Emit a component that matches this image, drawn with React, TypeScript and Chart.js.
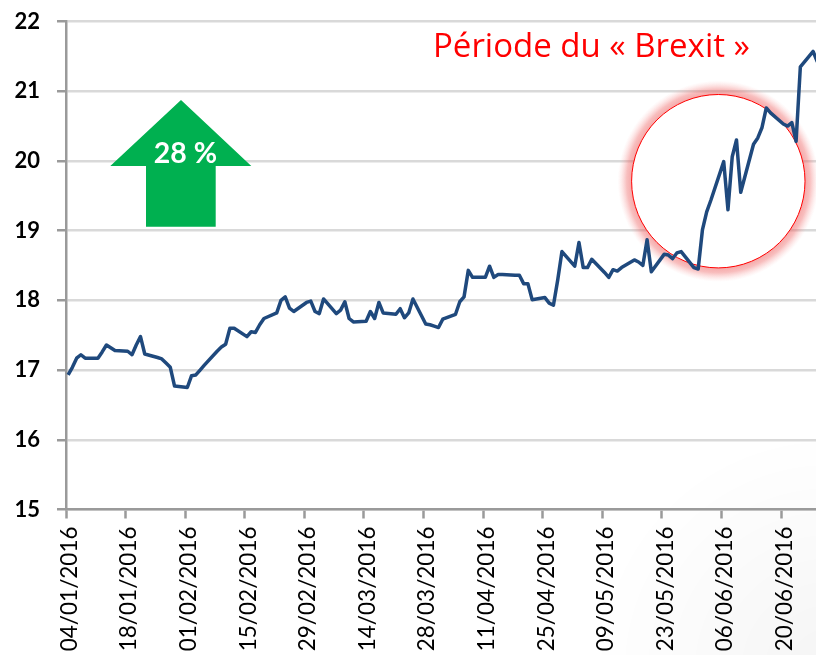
import React, { useEffect, useRef } from "react";
import { Chart, registerables } from "chart.js";

Chart.register(...registerables);

const tickLabels = ["04/01/2016","18/01/2016","01/02/2016","15/02/2016","29/02/2016","14/03/2016","28/03/2016","11/04/2016","25/04/2016","09/05/2016","23/05/2016","06/06/2016","20/06/2016"];
const calendarDays = 177;
const tickEvery = 14;
const tradingDays = [0,1,2,3,4,7,8,9,10,11,14,15,16,17,18,21,22,23,24,25,28,29,30,31,32,35,36,37,38,39,42,43,44,45,46,49,50,51,52,53,56,57,58,59,60,63,64,65,66,67,70,71,72,73,74,77,78,79,80,81,84,85,86,87,88,91,92,93,94,95,98,99,100,101,102,105,106,107,108,109,112,113,114,115,116,119,120,121,122,123,126,127,128,129,130,133,134,135,136,137,140,141,142,143,144,147,148,149,150,151,154,155,156,157,158,161,162,163,164,165,168,169,170,171,172,175,176];
const prices = [16.93,17.04,17.17,17.22,17.17,17.17,17.26,17.36,17.32,17.28,17.27,17.22,17.36,17.48,17.23,17.18,17.16,17.10,17.04,16.77,16.75,16.92,16.93,17.00,17.07,17.27,17.33,17.37,17.60,17.60,17.48,17.55,17.54,17.65,17.74,17.82,18.00,18.05,17.89,17.84,17.97,17.99,17.84,17.81,18.02,17.81,17.86,17.98,17.74,17.69,17.70,17.84,17.74,17.97,17.82,17.80,17.88,17.75,17.82,18.02,17.66,17.65,17.63,17.61,17.73,17.80,17.98,18.05,18.43,18.33,18.33,18.49,18.33,18.37,18.37,18.36,18.36,18.24,18.24,18.01,18.04,17.96,17.93,18.29,18.70,18.49,18.83,18.47,18.47,18.59,18.40,18.33,18.44,18.42,18.47,18.58,18.55,18.50,18.87,18.41,18.66,18.65,18.60,18.68,18.70,18.47,18.45,19.01,19.27,19.44,19.99,19.30,20.06,20.30,19.55,20.24,20.33,20.48,20.76,20.69,20.53,20.50,20.55,20.28,21.35,21.57,21.42];
const titleText = "Période du « Brexit »";
const changeText = "28 %";

const FONT = "Lato, Carlito, Calibri, sans-serif";

const annotations = {
  id: "annotations",
  beforeDraw(chart: any) {
    const { ctx } = chart;
    ctx.save();
    const g = ctx.createRadialGradient(830, 670, 30, 830, 670, 240);
    g.addColorStop(0, "rgba(0,0,0,0.035)");
    g.addColorStop(1, "rgba(0,0,0,0)");
    ctx.fillStyle = g;
    ctx.fillRect(560, 420, 260, 235);
    ctx.restore();
  },
  beforeDatasetsDraw(chart: any) {
    const { ctx } = chart;
    const cx = 718.3, cy = 181.2, r = 86.7;
    ctx.save();
    // glowing circle
    const glow = ctx.createRadialGradient(cx, cy, r, cx, cy, r + 14);
    glow.addColorStop(0, "rgba(236,90,90,0.52)");
    glow.addColorStop(0.35, "rgba(238,100,100,0.42)");
    glow.addColorStop(0.7, "rgba(244,130,130,0.18)");
    glow.addColorStop(1, "rgba(250,170,170,0)");
    ctx.beginPath();
    ctx.arc(cx, cy, r + 14, 0, Math.PI * 2);
    ctx.fillStyle = glow;
    ctx.fill();
    ctx.beginPath();
    ctx.arc(cx, cy, r, 0, Math.PI * 2);
    ctx.fillStyle = "#ffffff";
    ctx.fill();
    ctx.strokeStyle = "#ff0000";
    ctx.lineWidth = 1;
    ctx.stroke();
    // arrow
    ctx.beginPath();
    ctx.moveTo(181, 100);
    ctx.lineTo(251.3, 166);
    ctx.lineTo(215.7, 166);
    ctx.lineTo(215.7, 226.7);
    ctx.lineTo(146, 226.7);
    ctx.lineTo(146, 166);
    ctx.lineTo(110.3, 166);
    ctx.closePath();
    ctx.fillStyle = "#00b050";
    ctx.fill();
    ctx.fillStyle = "#ffffff";
    ctx.font = `bold 28.5px ${FONT}`;
    ctx.textAlign = "center";
    ctx.textBaseline = "middle";
    ctx.fillText(changeText, 185.5, 154);
    // title
    ctx.fillStyle = "#ff0000";
    ctx.font = `33px "Open Sans", ${FONT}`;
    ctx.textAlign = "left";
    ctx.fillText(titleText, 433, 48);
    ctx.restore();
  },
};

export default function App() {
  const ref = useRef<HTMLCanvasElement>(null);
  useEffect(() => {
    const values: (number | null)[] = Array.from({ length: calendarDays }, () => null);
    tradingDays.forEach((d, i) => { values[d] = prices[i]; });
    const chart = new Chart(ref.current!, {
      type: "line",
      data: {
        labels: values.map((_, i) => String(i)),
        datasets: [{
          data: values,
          borderColor: "#1f497d",
          borderWidth: 3.5,
          pointRadius: 0,
          tension: 0,
          spanGaps: true,
          borderJoinStyle: "round",
        }],
      },
      options: {
        animation: false,
        responsive: false,
        events: [],
        layout: { padding: { top: 21.5, right: 0.5, left: 0, bottom: 0 } },
        plugins: { legend: { display: false }, tooltip: { enabled: false }, title: { display: false } },
        scales: {
          x: {
            type: "category",
            offset: true,
            afterFit: (s: any) => { s.height = 145.5; s.paddingLeft = 0; s.paddingRight = 0; },
            grid: {
              offset: true,
              drawOnChartArea: false,
              drawTicks: true,
              tickLength: 9,
              tickWidth: 2.5,
              tickColor: (c: any) => (c.index % tickEvery === 0 ? "#9a9a9a" : "rgba(0,0,0,0)"),
            },
            border: { color: "#9a9a9a", width: 2.5 },
            ticks: {
              autoSkip: false,
              minRotation: 90,
              maxRotation: 90,
              padding: 8,
              labelOffset: 1.5,
              color: "#000000",
              font: { family: FONT, size: 22.5 },
              callback: (_: any, i: number) => (i % tickEvery === 0 ? tickLabels[i / tickEvery] : ""),
            },
          },
          y: {
            min: 15,
            max: 22,
            afterFit: (s: any) => { s.width = 66; s.paddingTop = 0; s.paddingBottom = 0; },
            grid: { color: "#d9d9d9", lineWidth: 2.5, tickLength: 9, tickColor: "#9a9a9a", tickWidth: 2.5 },
            border: { color: "#9a9a9a", width: 2.5 },
            ticks: {
              stepSize: 1,
              padding: 17,
              color: "#000000",
              font: { family: FONT, size: 22, weight: "bold" },
            },
          },
        },
      },
      plugins: [annotations],
    } as any);
    return () => chart.destroy();
  }, []);
  return (
    <div style={{ position: "absolute", left: 0, top: 0, width: 816, height: 655, overflow: "hidden", background: "#fff" }}>
      <canvas ref={ref} width={820} height={655} style={{ display: "block" }} />
    </div>
  );
}
